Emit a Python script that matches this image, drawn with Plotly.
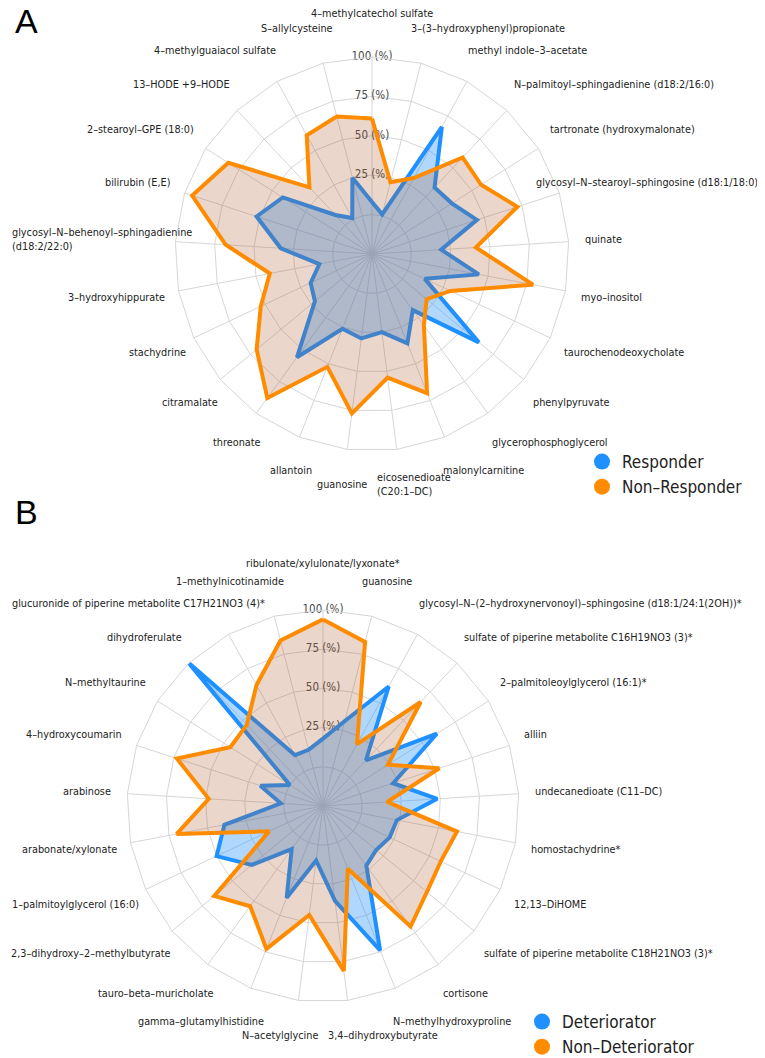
import math
import plotly.graph_objects as go

# ---------------- data ----------------
cats_a = [
    "4–methylcatechol sulfate",
    "3–(3–hydroxyphenyl)propionate",
    "methyl indole–3–acetate",
    "N–palmitoyl–sphingadienine (d18:2/16:0)",
    "tartronate (hydroxymalonate)",
    "glycosyl–N–stearoyl–sphingosine (d18:1/18:0)",
    "quinate",
    "myo–inositol",
    "taurochenodeoxycholate",
    "phenylpyruvate",
    "glycerophosphoglycerol",
    "malonylcarnitine",
    "eicosenedioate<br>(C20:1–DC)",
    "guanosine",
    "allantoin",
    "threonate",
    "citramalate",
    "stachydrine",
    "3–hydroxyhippurate",
    "glycosyl–N–behenoyl–sphingadienine<br>(d18:2/22:0)",
    "bilirubin (E,E)",
    "2–stearoyl–GPE (18:0)",
    "13–HODE +9–HODE",
    "4–methylguaiacol sulfate",
    "S–allylcysteine",
]
responder_a = [8, 1, 67, 33, 35, 45, 19, 44, 12, 63, 19, 36, 25, 29, 26, 56, 22, 18, 9, 33, 52, 42, 9, 1, 25]
nonresponder_a = [61, 22, 30, 59, 57, 72, 41, 79, 30, 20, 31, 70, 54, 77, 52, 88, 70, 53, 41, 68, 95, 83, 33, 61, 65]

cats_b = [
    "ribulonate/xylulonate/lyxonate*",
    "guanosine",
    "glycosyl–N–(2–hydroxynervonoyl)–sphingosine (d18:1/24:1(2OH))*",
    "sulfate of piperine metabolite C16H19NO3 (3)*",
    "2–palmitoleoylglycerol (16:1)*",
    "alliin",
    "undecanedioate (C11–DC)",
    "homostachydrine*",
    "12,13–DiHOME",
    "sulfate of piperine metabolite C18H21NO3 (3)*",
    "cortisone",
    "N–methylhydroxyproline",
    "3,4–dihydroxybutyrate",
    "N–acetylglycine",
    "gamma–glutamylhistidine",
    "tauro–beta–muricholate",
    "2,3–dihydroxy–2–methylbutyrate",
    "1–palmitoylglycerol (16:0)",
    "arabonate/xylonate",
    "arabinose",
    "4–hydroxycoumarin",
    "N–methyltaurine",
    "dihydroferulate",
    "glucuronide of piperine metabolite C17H21NO3 (4)*",
    "1–methylnicotinamide",
]
deteriorator_b = [18, 31, 62, 15, 61, 22, 48, 23, 22, 19, 22, 74, 36, 10, 38, 9, 34, 50, 39, 2, 17, 0, 100, 12, 12]
nondeteriorator_b = [94, 83, 20, 66, 24, 53, 16, 62, 58, 61, 70, 18, 81, 45, 73, 54, 65, 13, 70, 48, 73, 45, 46, 63, 84]

radial_ticks = [0, 25, 50, 75, 100]
radial_labels = ["0 (%)", "25 (%)", "50 (%)", "75 (%)", "100 (%)"]

# ---------------- style ----------------
BLUE = "#1E90FF"
ORANGE = "#FF8C00"
BLUE_FILL = "rgba(30,144,255,0.35)"
ORANGE_FILL = "rgba(170,90,45,0.25)"
GRID = "#d6d6d6"
FONT = "DejaVu Sans Condensed, Liberation Sans, Arial, sans-serif"
LABEL_SIZE = 10.8

# The page has an 8px body margin; positions below are in screen pixels
OFF = 8
W, H = 765, 1058


def px(x):
    return (x - OFF) / W


def py(y):
    return 1 - (y - OFF) / H


def closed(values):
    return list(values) + [values[0]]


fig = go.Figure()

panels = [
    ("polar", cats_a, responder_a, nonresponder_a, "Responder", "Non–Responder", "legend"),
    ("polar2", cats_b, deteriorator_b, nondeteriorator_b, "Deteriorator", "Non–Deteriorator", "legend2"),
]

for sub, cats, blue_vals, orange_vals, blue_name, orange_name, leg in panels:
    fig.add_trace(go.Scatterpolar(
        r=radial_ticks, theta=[cats[0]] * len(radial_ticks), mode="text",
        text=radial_labels, textposition="middle center",
        textfont=dict(size=11.5, color="#4a4a4a", family=FONT),
        subplot=sub, showlegend=False, hoverinfo="skip"))
    fig.add_trace(go.Scatterpolar(
        r=closed(blue_vals), theta=closed(cats), mode="lines",
        fill="toself", fillcolor=BLUE_FILL,
        line=dict(color=BLUE, width=4),
        name=blue_name, subplot=sub, showlegend=False))
    fig.add_trace(go.Scatterpolar(
        r=closed(orange_vals), theta=closed(cats), mode="lines",
        fill="toself", fillcolor=ORANGE_FILL,
        line=dict(color=ORANGE, width=4),
        name=orange_name, subplot=sub, showlegend=False))
    for nm, col in [(blue_name, BLUE), (orange_name, ORANGE)]:
        fig.add_trace(go.Scatterpolar(
            r=[None], theta=[cats[0]], mode="markers",
            marker=dict(size=16, color=col), name=nm,
            subplot=sub, legend=leg, showlegend=True))


def polar_layout(cats, cx, cy, R):
    return dict(
        domain=dict(x=[px(cx - R), px(cx + R)], y=[py(cy + R), py(cy - R)]),
        bgcolor="white",
        gridshape="linear",
        radialaxis=dict(
            range=[-25, 100], tickvals=radial_ticks, showticklabels=False,
            ticks="", showline=False, gridcolor=GRID, gridwidth=1, angle=90),
        angularaxis=dict(
            type="category", categoryarray=cats, direction="clockwise",
            rotation=90, showticklabels=False, ticks="",
            showline=True, linecolor=GRID, linewidth=1, gridcolor=GRID),
    )


def category_labels(cats, cx, cy, R):
    """Category names placed around the radar, outside the outer ring."""
    anns = []
    n = len(cats)
    b = R * 1.18        # vertical distance of the text centre
    for i, name in enumerate(cats):
        th = 2 * math.pi * i / n
        s, c = math.sin(th), math.cos(th)
        vx = cx + R * s                      # x of the outer-ring vertex
        y = cy - b * c
        w = max(len(t) for t in name.split("<br>")) * 5.3
        if abs(s) < 0.05:
            xa, x = "center", cx
            if c > 0:
                y = max(cy - b * 1.05, 13)
        elif abs(s) < 0.2:
            xa = "left" if s > 0 else "right"
            x = cx + (3 if s > 0 else -3)
        else:
            g = -12.0 if abs(s) < 0.3 else min(14.0, max(-6.0, 28 * (abs(s) - 0.5)))
            if s > 0:
                xa, x = "left", vx + g
                if x + w > 760:
                    xa, x = "right", 760
            else:
                xa, x = "right", vx - g + 12 * max(0.0, -c)
                if x - w < 10:
                    xa, x = "left", 10
        anns.append(dict(
            text=name, x=px(x), y=py(y), xref="paper", yref="paper",
            xanchor=xa, yanchor="middle", align="left", showarrow=False,
            font=dict(size=LABEL_SIZE, family=FONT, color="#222222")))
    return anns


A_CX, A_CY, A_R = 372, 254, 197
B_CX, B_CY, B_R = 323, 806, 196

annotations = category_labels(cats_a, A_CX, A_CY, A_R) + category_labels(cats_b, B_CX, B_CY, B_R)
annotations += [
    dict(text="A", x=px(13), y=py(21.5), xref="paper", yref="paper",
         xanchor="left", yanchor="middle", showarrow=False,
         font=dict(size=34, family="Liberation Sans, Arial, sans-serif", color="black")),
    dict(text="B", x=px(13), y=py(512.5), xref="paper", yref="paper",
         xanchor="left", yanchor="middle", showarrow=False,
         font=dict(size=34, family="Liberation Sans, Arial, sans-serif", color="black")),
]

legend_style = dict(xanchor="left", yanchor="top", xref="container", yref="container",
                    font=dict(size=17, family=FONT, color="#222222"),
                    bgcolor="rgba(0,0,0,0)", tracegroupgap=0)

fig.update_layout(
    width=W, height=H,
    margin=dict(l=0, r=0, t=0, b=0, autoexpand=False),
    paper_bgcolor="white",
    font=dict(family=FONT, color="#222222"),
    polar=polar_layout(cats_a, A_CX, A_CY, A_R),
    polar2=polar_layout(cats_b, B_CX, B_CY, B_R),
    legend=dict(x=px(582), y=py(444), **legend_style),
    legend2=dict(x=px(522), y=py(1004), **legend_style),
    annotations=annotations,
)

fig.write_html("out.html")
